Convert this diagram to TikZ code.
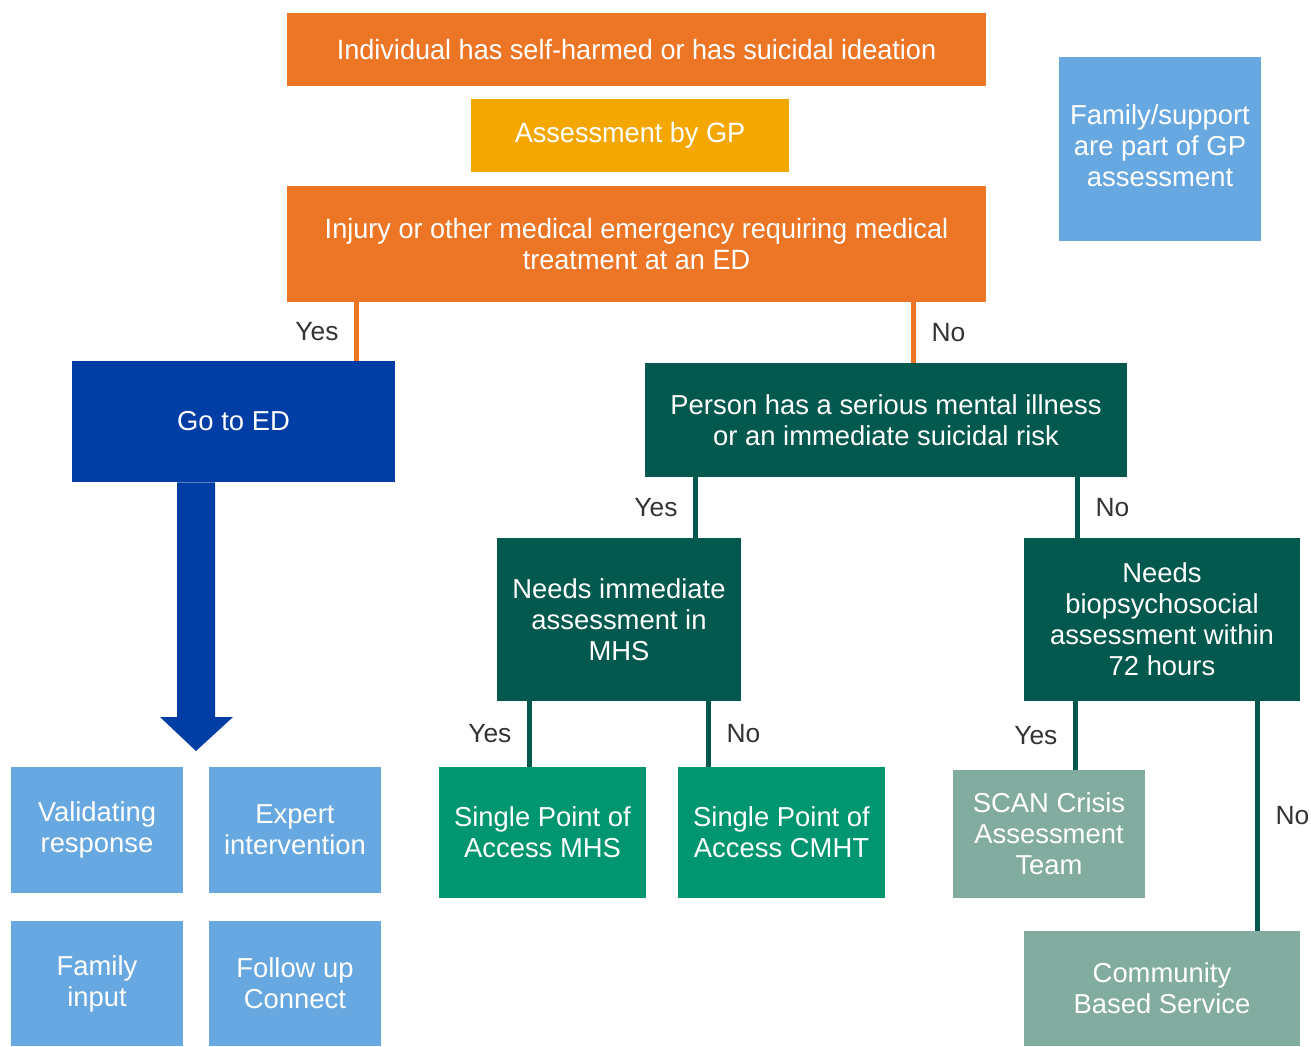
\documentclass[tikz,border=0pt]{standalone}
\usepackage{fontspec}
\setmainfont{Liberation Sans}
\newfontfamily\condfont[FakeStretch=0.97]{Liberation Sans}
\usetikzlibrary{positioning}

\definecolor{gporange}{HTML}{EC7625}
\definecolor{gpyellow}{HTML}{F4A700}
\definecolor{lightblue}{HTML}{68A8E0}
\definecolor{edblue}{HTML}{003DA5}
\definecolor{darkteal}{HTML}{03594D}
\definecolor{spgreen}{HTML}{009670}
\definecolor{greygreen}{HTML}{82AC9F}
\definecolor{labelgrey}{HTML}{333333}

\tikzset{
    box/.style={rectangle, text=white, align=center, inner sep=2pt,
        font=\fontsize{15.6}{17.6}\selectfont},
    orbox/.style={box, fill=gporange, font=\condfont\fontsize{15.9}{17.4}\selectfont},
    ylbox/.style={box, fill=gpyellow, font=\condfont\fontsize{15.9}{17.4}\selectfont},
    lbbox/.style={box, fill=lightblue},
    edbox/.style={box, fill=edblue},
    tlbox/.style={box, fill=darkteal},
    grbox/.style={box, fill=spgreen},
    ggbox/.style={box, fill=greygreen},
    orline/.style={draw=gporange, line width=2.8pt},
    tlline/.style={draw=darkteal, line width=2.8pt},
    lbl/.style={text=labelgrey, inner sep=0pt, font=\fontsize{15}{17.4}\selectfont}
}

\begin{document}
\begin{tikzpicture}[x=0.02cm, y=-0.02cm]
        \useasboundingbox (0,0) rectangle (1311,1046);

        % top of the chart
        \node[orbox, minimum width=13.98cm, minimum height=1.46cm] (self) at (636.5,49.5)
            {Individual has self-harmed or has suicidal ideation};
        \node[ylbox, minimum width=6.36cm, minimum height=1.46cm] (gp) at (630,135.5)
            {Assessment by GP};
        \node[orbox, minimum width=13.98cm, minimum height=2.32cm] (injury) at (636.5,244)
            {Injury or other medical emergency requiring medical\\treatment at an ED};
        \node[lbbox, minimum width=4.04cm, minimum height=3.68cm, text depth=0.15cm] (famsup) at (1160,149)
            {Family/support\\are part of GP\\assessment};

        % ED branch
        \node[edbox, minimum width=6.46cm, minimum height=2.42cm] (goed) at (233.5,421.5)
            {Go to ED};
        \node[lbbox, minimum width=3.44cm, minimum height=2.52cm] (valid) at (97,830)
            {Validating\\response};
        \node[lbbox, minimum width=3.44cm, minimum height=2.52cm] (expert) at (295,830)
            {Expert\\intervention};
        \node[lbbox, minimum width=3.44cm, minimum height=2.5cm] (faminput) at (97,983.5)
            {Family\\input};
        \node[lbbox, minimum width=3.44cm, minimum height=2.5cm] (followup) at (295,983.5)
            {Follow up\\Connect};
        \fill[edblue] (goed.south -| 177,0) -- (goed.south -| 215,0) -- (215,717)
            -- (233,717) -- (196,751) -- (160,717) -- (177,717) -- cycle;

        % mental health branch
        \node[tlbox, minimum width=9.64cm, minimum height=2.28cm] (person) at (886,420)
            {Person has a serious mental illness\\or an immediate suicidal risk};
        \node[tlbox, minimum width=4.88cm, minimum height=3.26cm] (immed) at (619,619.5)
            {Needs immediate\\assessment in\\MHS};
        \node[tlbox, minimum width=5.52cm, minimum height=3.26cm] (biopsy) at (1162,619.5)
            {Needs\\biopsychosocial\\assessment within\\72 hours};
        \node[grbox, minimum width=4.14cm, minimum height=2.62cm] (spmhs) at (542.5,832.5)
            {Single Point of\\Access MHS};
        \node[grbox, minimum width=4.14cm, minimum height=2.62cm] (spcmht) at (781.5,832.5)
            {Single Point of\\Access CMHT};
        \node[ggbox, minimum width=3.84cm, minimum height=2.56cm] (scan) at (1049,834)
            {SCAN Crisis\\Assessment\\Team};
        \node[ggbox, minimum width=5.52cm, minimum height=2.3cm] (community) at (1162,988.5)
            {Community\\Based Service};

        % connectors
        \draw[orline] ([xshift=1.4cm]injury.south west) -- ([xshift=1.4cm]injury.south west |- goed.north)
            node[lbl, midway, left=9pt] {Yes};
        \draw[orline] ([xshift=-1.46cm]injury.south east) -- ([xshift=-1.46cm]injury.south east |- person.north)
            node[lbl, midway, right=9pt] {No};
        \draw[tlline] ([xshift=1.02cm]person.south west) -- ([xshift=1.02cm]person.south west |- immed.north)
            node[lbl, midway, left=9pt] {Yes};
        \draw[tlline] ([xshift=-1.0cm]person.south east) -- ([xshift=-1.0cm]person.south east |- biopsy.north)
            node[lbl, midway, right=9pt] {No};
        \draw[tlline] ([xshift=0.66cm]immed.south west) -- ([xshift=0.66cm]immed.south west |- spmhs.north)
            node[lbl, midway, left=9pt] {Yes};
        \draw[tlline] ([xshift=-0.66cm]immed.south east) -- ([xshift=-0.66cm]immed.south east |- spcmht.north)
            node[lbl, midway, right=9pt] {No};
        \draw[tlline] ([xshift=1.04cm]biopsy.south west) -- ([xshift=1.04cm]biopsy.south west |- scan.north)
            node[lbl, midway, left=9pt] {Yes};
        \draw[tlline] ([xshift=-0.86cm]biopsy.south east) -- ([xshift=-0.86cm]biopsy.south east |- community.north)
            node[lbl, midway, right=9pt] {No};
    \end{tikzpicture}
\end{document}
